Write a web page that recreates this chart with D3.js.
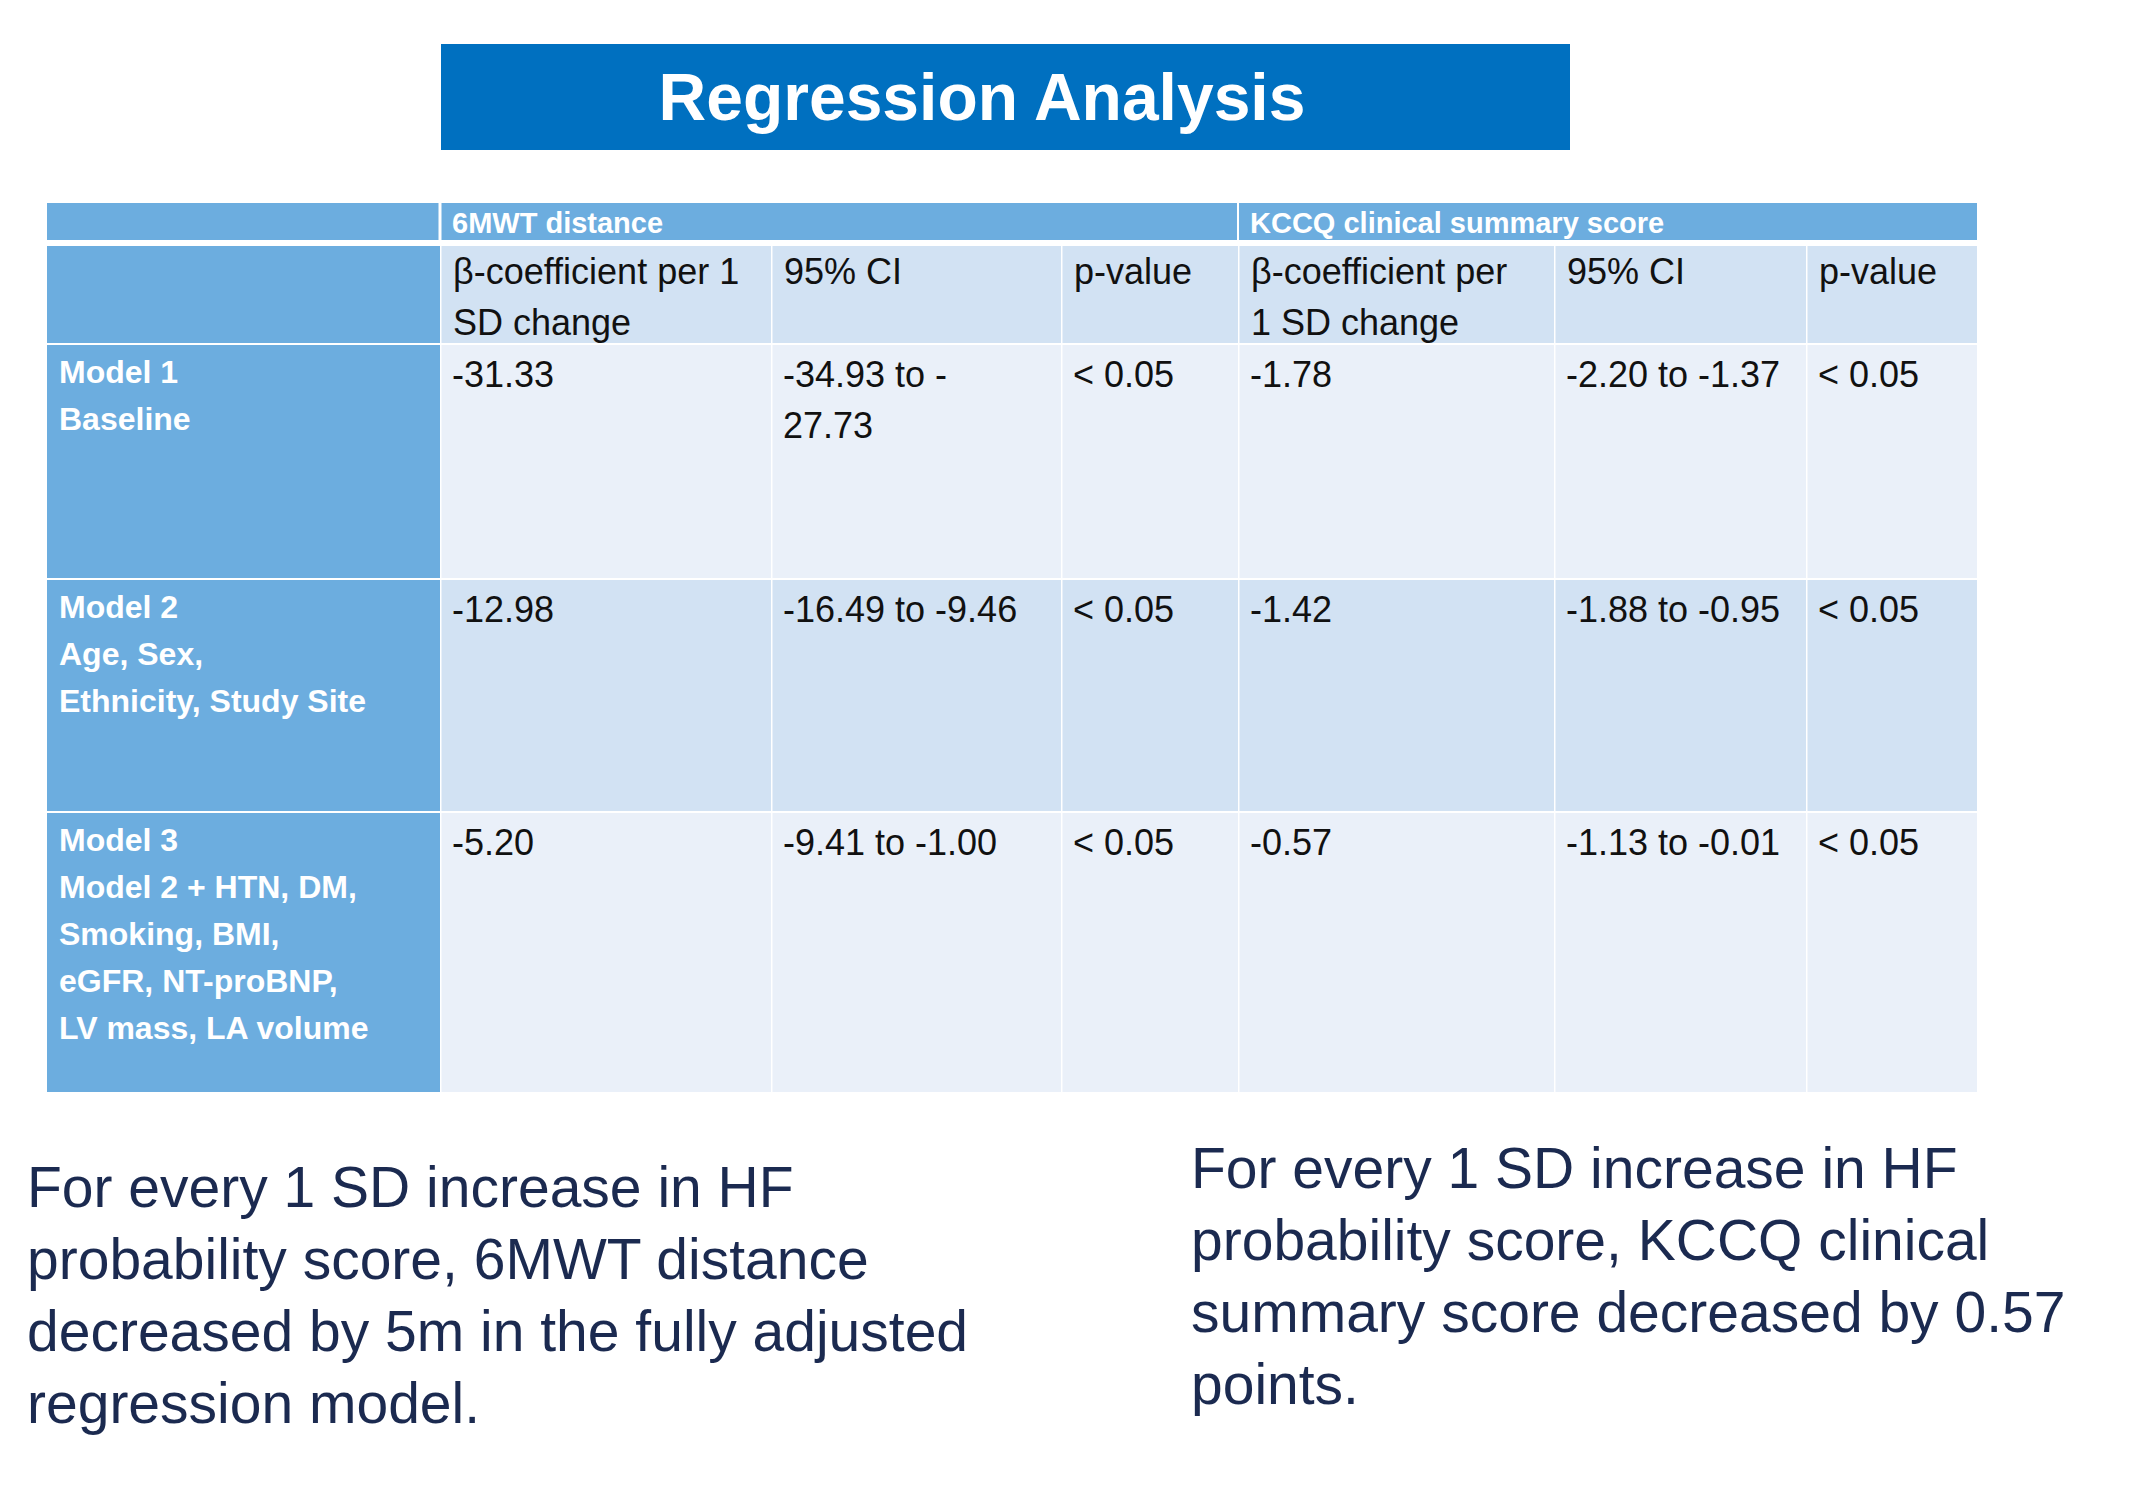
<!DOCTYPE html>
<html><head><meta charset="utf-8">
<script src="https://cdn.jsdelivr.net/npm/d3@7"></script>
<style>body{margin:0;background:#fff}</style></head>
<body><svg id="c" width="2130" height="1485"></svg>
<script>
const title = "Regression Analysis";
const groups = ["6MWT distance", "KCCQ clinical summary score"];
const colHeaders = [["β-coefficient per 1","SD change"],["95% CI"],["p-value"],["β-coefficient per","1 SD change"],["95% CI"],["p-value"]];
const rowLabels = [["Model 1","Baseline"],["Model 2","Age, Sex,","Ethnicity, Study Site"],["Model 3","Model 2 + HTN, DM,","Smoking, BMI,","eGFR, NT-proBNP,","LV mass, LA volume"]];
const beta6MWT = ["-31.33","-12.98","-5.20"];
const ci6MWT = [["-34.93 to -","27.73"],["-16.49 to -9.46"],["-9.41 to -1.00"]];
const p6MWT = ["< 0.05","< 0.05","< 0.05"];
const betaKCCQ = ["-1.78","-1.42","-0.57"];
const ciKCCQ = [["-2.20 to -1.37"],["-1.88 to -0.95"],["-1.13 to -0.01"]];
const pKCCQ = ["< 0.05","< 0.05","< 0.05"];
const notes = [["For every 1 SD increase in HF","probability score, 6MWT distance","decreased by 5m in the fully adjusted","regression model."],
               ["For every 1 SD increase in HF","probability score, KCCQ clinical","summary score decreased by 0.57","points."]];

const svg = d3.select("#c");
const F = "'Liberation Sans', Arial, sans-serif";
const colEdges = [47, 440, 771, 1061, 1238, 1554, 1806, 1977];
const rowEdges = [343, 578, 811, 1092];
const x = i => colEdges[i], w = i => colEdges[i+1]-colEdges[i];

// title
svg.append("rect").attr("x",441).attr("y",44).attr("width",1129).attr("height",106).attr("fill","#0070C0");
svg.append("text").attr("x",982).attr("y",120).attr("text-anchor","middle").attr("font-family",F)
  .attr("font-weight","bold").attr("font-size",66).attr("fill","#fff").text(title);

// group header row
svg.append("rect").attr("x",47).attr("y",203).attr("width",1930).attr("height",37).attr("fill","#6CADDF");
[[1,4],[4,7]].forEach(([a,b],i)=>{
  if(i>0) svg.append("line").attr("x1",x(a)).attr("x2",x(a)).attr("y1",203).attr("y2",240).attr("stroke","#fff").attr("stroke-width",2);
  svg.append("text").attr("x",x(a)+12).attr("y",233).attr("font-family",F).attr("font-weight","bold")
    .attr("font-size",29).attr("fill","#fff").text(groups[i]);
});
svg.append("line").attr("x1",440).attr("x2",440).attr("y1",203).attr("y2",240).attr("stroke","#fff").attr("stroke-width",3);

// column header row
svg.append("rect").attr("x",47).attr("y",246).attr("width",w(0)).attr("height",97).attr("fill","#6CADDF");
colHeaders.forEach((lines,i)=>{
  const c=i+1;
  svg.append("rect").attr("x",x(c)+1.5).attr("y",246).attr("width",w(c)-1.5).attr("height",97).attr("fill","#D2E2F3");
  lines.forEach((t,k)=>svg.append("text").attr("x",x(c)+13).attr("y",284+k*51).attr("font-family",F)
    .attr("font-size",36).attr("fill","#111").text(t));
});

// body rows
const cols = [beta6MWT, ci6MWT, p6MWT, betaKCCQ, ciKCCQ, pKCCQ];
rowLabels.forEach((lab,r)=>{
  const y0 = rowEdges[r]+2, h = rowEdges[r+1]-rowEdges[r]-2;
  svg.append("rect").attr("x",47).attr("y",y0).attr("width",w(0)).attr("height",h).attr("fill","#6CADDF");
  lab.forEach((t,k)=>svg.append("text").attr("x",59).attr("y",y0+38+k*47).attr("font-family",F)
    .attr("font-weight","bold").attr("font-size",32).attr("fill","#fff").text(t));
  cols.forEach((arr,i)=>{
    const c=i+1;
    svg.append("rect").attr("x",x(c)+1.5).attr("y",y0).attr("width",w(c)-1.5).attr("height",h)
      .attr("fill", r===1 ? "#D2E2F3" : "#EAF0F9");
    const v = arr[r]; const lines = Array.isArray(v)?v:[v];
    lines.forEach((t,k)=>svg.append("text").attr("x",x(c)+12).attr("y",y0+42+k*51).attr("font-family",F)
      .attr("font-size",36).attr("fill","#111").text(t));
  });
});

// notes
[[27,1207],[1191,1188]].forEach(([nx,ny],i)=>{
  notes[i].forEach((t,k)=>svg.append("text").attr("x",nx).attr("y",ny+k*72).attr("font-family",F)
    .attr("font-size",57).attr("fill","#1B2A50").text(t));
});
</script></body></html>
